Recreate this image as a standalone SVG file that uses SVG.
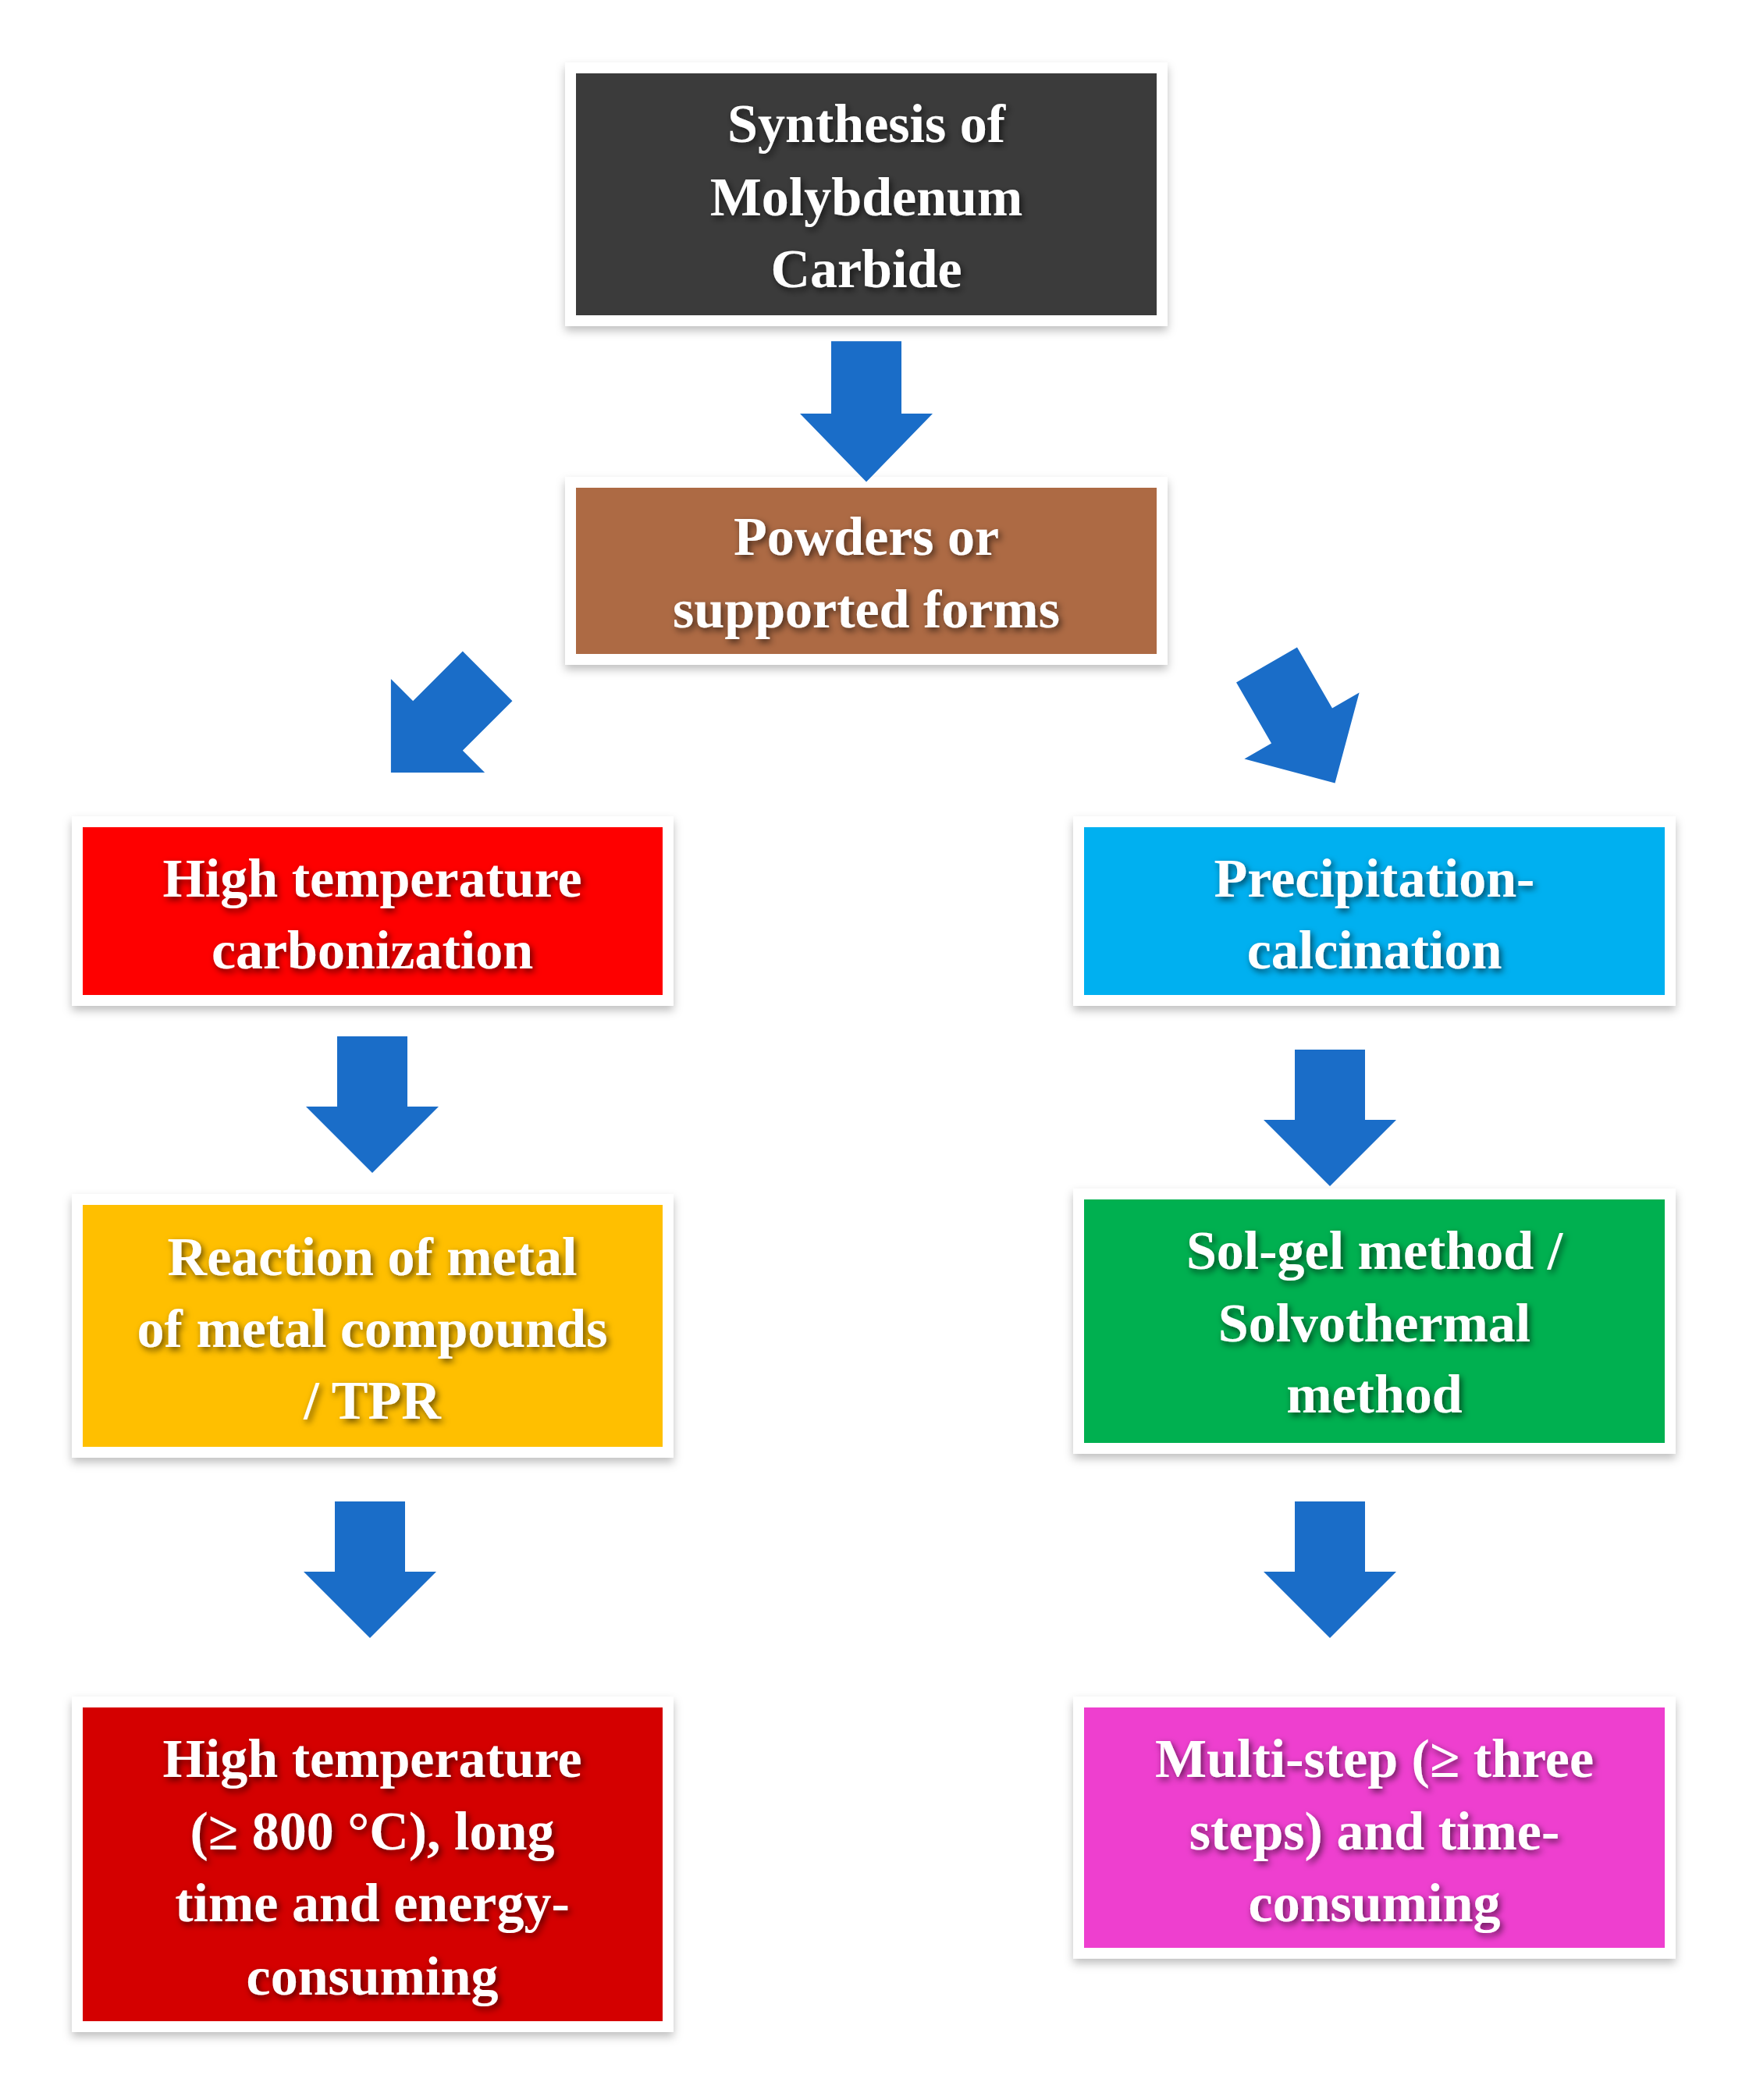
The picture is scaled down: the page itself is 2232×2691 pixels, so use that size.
<svg xmlns="http://www.w3.org/2000/svg" width="2232" height="2691" viewBox="0 0 2232 2691">
<defs>
<filter id="sh" x="-10%" y="-10%" width="120%" height="130%"><feDropShadow dx="0" dy="6" stdDeviation="6" flood-color="#000" flood-opacity="0.25"/></filter>
<filter id="ts" x="-10%" y="-20%" width="120%" height="140%"><feDropShadow dx="3" dy="4" stdDeviation="4" flood-color="#000" flood-opacity="0.6"/></filter>
<path id="arr" d="M-45,-90 H45 V0 H85 L0,85 L-85,0 H-45 Z"/>
</defs>
<style>
.frame{fill:#fff;filter:url(#sh)}
.t{font-family:"Liberation Serif","Times New Roman",serif;font-weight:bold;font-size:70px;fill:#fff;text-anchor:middle;dominant-baseline:central;filter:url(#ts)}
.a{fill:#1a6dc8}
</style>
<rect width="2232" height="2691" fill="#fff"/>
<g id="n1"><rect class="frame" x="724" y="80" width="772" height="338"/><rect x="738" y="94" width="744" height="310" fill="#3b3b3b"/>
<text class="t" x="1110" y="158">Synthesis of</text><text class="t" x="1110" y="252">Molybdenum</text><text class="t" x="1110" y="344">Carbide</text></g>
<g id="n2"><rect class="frame" x="724" y="611" width="772" height="241"/><rect x="738" y="625" width="744" height="213" fill="#ad6a44"/>
<text class="t" x="1110" y="687">Powders or</text><text class="t" x="1110" y="780">supported forms</text></g>
<g id="n3"><rect class="frame" x="92" y="1046" width="771" height="243"/><rect x="106" y="1060" width="743" height="215" fill="#fe0000"/>
<text class="t" x="477" y="1125">High temperature</text><text class="t" x="477" y="1217">carbonization</text></g>
<g id="n4"><rect class="frame" x="1375" y="1046" width="772" height="243"/><rect x="1389" y="1060" width="744" height="215" fill="#00b0f0"/>
<text class="t" x="1761" y="1125">Precipitation-</text><text class="t" x="1761" y="1217">calcination</text></g>
<g id="n5"><rect class="frame" x="92" y="1530" width="771" height="338"/><rect x="106" y="1544" width="743" height="310" fill="#ffbf00"/>
<text class="t" x="477" y="1610">Reaction of  metal</text><text class="t" x="477" y="1702">of metal compounds</text><text class="t" x="477" y="1794">/ TPR</text></g>
<g id="n6"><rect class="frame" x="1375" y="1523" width="772" height="340"/><rect x="1389" y="1537" width="744" height="312" fill="#00b050"/>
<text class="t" x="1761" y="1602">Sol-gel method /</text><text class="t" x="1761" y="1695">Solvothermal</text><text class="t" x="1761" y="1786">method</text></g>
<g id="n7"><rect class="frame" x="92" y="2174" width="771" height="430"/><rect x="106" y="2188" width="743" height="402" fill="#d40000"/>
<text class="t" x="477" y="2253">High temperature</text><text class="t" x="477" y="2346">(≥ 800 °C), long</text><text class="t" x="477" y="2438">time and energy-</text><text class="t" x="477" y="2532">consuming</text></g>
<g id="n8"><rect class="frame" x="1375" y="2174" width="772" height="336"/><rect x="1389" y="2188" width="744" height="308" fill="#ee3fcf"/>
<text class="t" x="1761" y="2253">Multi-step (≥ three</text><text class="t" x="1761" y="2346">steps) and time-</text><text class="t" x="1761" y="2438">consuming</text></g>
<g id="connectors">
<use class="a" href="#arr" transform="translate(1110,530) scale(1,1.03)"/>
<use class="a" href="#arr" transform="translate(561,930) rotate(45)"/>
<use class="a" href="#arr" transform="translate(1668,930) rotate(-30)"/>
<use class="a" href="#arr" transform="translate(477,1418)"/>
<use class="a" href="#arr" transform="translate(1704,1435)"/>
<use class="a" href="#arr" transform="translate(474,2014)"/>
<use class="a" href="#arr" transform="translate(1704,2014)"/>
</g>
</svg>
